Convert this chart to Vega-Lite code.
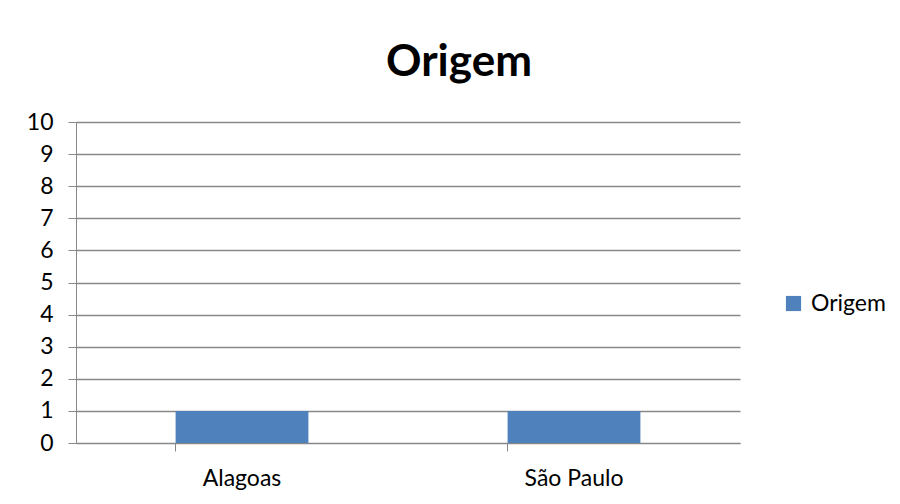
{
  "$schema": "https://vega.github.io/schema/vega-lite/v6.json",
  "autosize": "none",
  "padding": {"left": 76, "top": 122, "right": 160, "bottom": 61},
  "width": 664,
  "height": 321,
  "background": "white",
  "data": {"values": [
    {"estado": "Alagoas", "valor": 1, "serie": "Origem"},
    {"estado": "São Paulo", "valor": 1, "serie": "Origem"}
  ]},
  "title": {
    "text": "Origem",
    "font": "Lato",
    "fontSize": 44,
    "fontWeight": "bold",
    "color": "black",
    "anchor": "middle",
    "dx": 51,
    "offset": 26
  },
  "mark": {"type": "bar", "color": "#4F81BD"},
  "encoding": {
    "x": {
      "field": "estado",
      "type": "nominal",
      "sort": null,
      "scale": {"paddingInner": 0.6, "paddingOuter": 0.3},
      "axis": {
        "title": null,
        "labelAngle": 0,
        "labelFont": "Lato",
        "labelFontSize": 23,
        "labelColor": "black",
        "labelPadding": 16,
        "domainColor": "#888888",
        "ticks": true,
        "bandPosition": 0,
        "tickColor": "#888888",
        "tickSize": 8,
        "grid": false
      }
    },
    "y": {
      "field": "valor",
      "type": "quantitative",
      "scale": {"domain": [0, 10]},
      "axis": {
        "title": null,
        "values": [0,1,2,3,4,5,6,7,8,9,10],
        "labelFont": "Lato",
        "labelFontSize": 23,
        "labelColor": "black",
        "labelPadding": 15,
        "tickColor": "#888888",
        "tickSize": 8,
        "domainColor": "#888888",
        "gridColor": "#888888",
        "gridWidth": 1.3
      }
    },
    "fill": {
      "field": "serie",
      "type": "nominal",
      "scale": {"range": ["#4F81BD"]},
      "legend": {
        "title": null,
        "orient": "none",
        "legendX": 706,
        "legendY": 170,
        "symbolType": "square",
        "symbolSize": 230,
        "symbolStrokeWidth": 0,
        "labelFont": "Lato",
        "labelFontSize": 23,
        "labelColor": "black",
        "labelOffset": 6
      }
    }
  },
  "config": {"view": {"stroke": null}}
}
